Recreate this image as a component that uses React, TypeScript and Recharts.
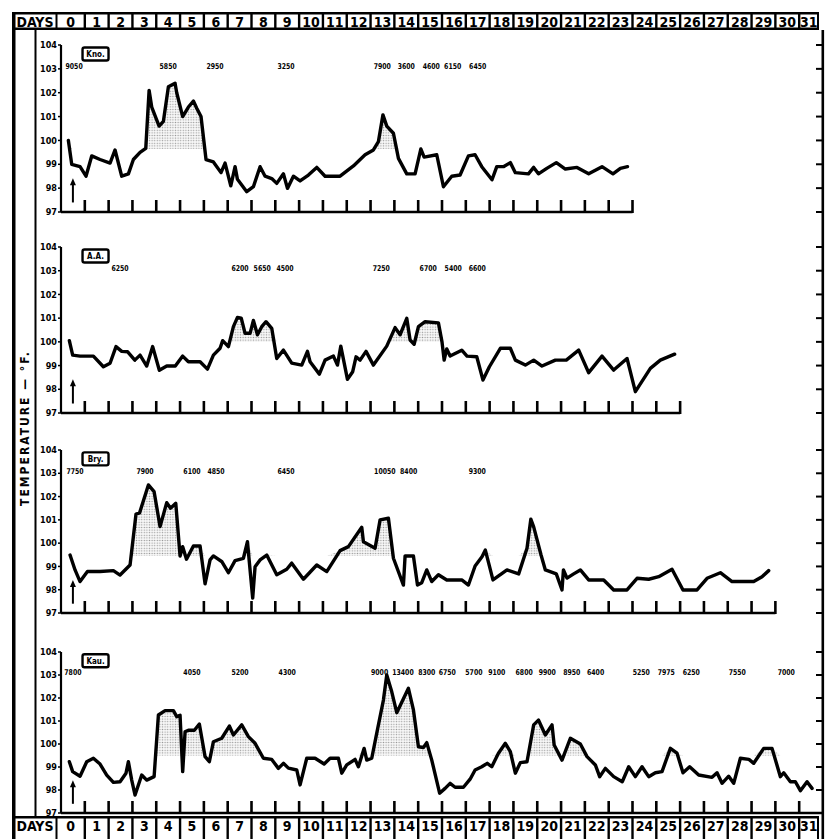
import React from 'react';
import { ComposedChart, Line, Area, XAxis, YAxis, Scatter, ReferenceLine, ReferenceDot } from 'recharts';

// ---- tick labels ----
const dayLabels = ['0','1','2','3','4','5','6','7','8','9','10','11','12','13','14','15','16','17','18','19','20','21','22','23','24','25','26','27','28','29','30','31'];
const tempTicks = [97, 98, 99, 100, 101, 102, 103, 104];
const axisTitle = 'TEMPERATURE — °F.';

// ---- panel names ----
const panelNames = ['Kno.', 'A.A.', 'Bry.', 'Kau.'];

// ---- temperature readings [day, °F] ----
const panel1Readings: [number, number][] = [
  [0.31,100.0],[0.45,99.0],[0.8,98.9],[1.05,98.5],[1.29,99.35],[1.64,99.2],[2.06,99.05],[2.27,99.6],[2.55,98.5],[2.83,98.6],
  [3.04,99.2],[3.32,99.5],[3.56,99.67],[3.7,102.1],[3.81,101.4],[4.12,100.6],[4.3,100.8],[4.51,102.25],[4.79,102.4],[4.86,102.0],
  [5.11,101.0],[5.35,101.4],[5.56,101.65],[5.7,101.35],[5.88,101.0],[6.09,99.2],[6.4,99.1],[6.72,98.65],[6.89,99.05],[7.13,98.1],
  [7.31,98.9],[7.41,98.37],[7.8,97.85],[8.08,98.06],[8.36,98.9],[8.57,98.5],[8.85,98.4],[9.06,98.2],[9.34,98.6],[9.51,97.99],
  [9.76,98.5],[10.04,98.3],[10.39,98.55],[10.74,98.87],[11.09,98.5],[11.72,98.5],[12.28,98.93],[12.77,99.4],[13.12,99.6],[13.33,99.95],
  [13.52,101.07],[13.68,100.6],[13.96,100.3],[14.17,99.25],[14.52,98.6],[14.87,98.6],[15.11,99.64],[15.25,99.3],[15.78,99.4],[16.06,98.06],
  [16.41,98.5],[16.76,98.55],[17.11,99.35],[17.39,99.4],[17.67,98.9],[18.1,98.35],[18.3,98.9],[18.58,98.9],[18.87,99.07],[19.08,98.65],
  [19.63,98.6],[19.85,98.87],[20.05,98.6],[20.4,98.83],[20.8,99.07],[21.18,98.8],[21.67,98.87],[22.16,98.6],[22.72,98.9],[23.18,98.6],
  [23.49,98.83],[23.79,98.9],
];
const panel2Readings: [number, number][] = [
  [0.35,100.05],[0.49,99.44],[0.8,99.4],[1.36,99.4],[1.78,98.95],[2.06,99.1],[2.31,99.8],[2.55,99.6],[2.8,99.58],[3.1,99.23],
  [3.32,99.44],[3.6,98.98],[3.85,99.8],[4.13,98.8],[4.44,98.98],[4.8,98.98],[5.11,99.4],[5.35,99.16],[5.84,99.16],[6.15,98.85],
  [6.4,99.44],[6.68,99.73],[6.79,100.05],[7.03,99.8],[7.24,100.64],[7.41,101.03],[7.57,101.0],[7.73,100.36],[7.94,100.36],[8.08,100.9],
  [8.25,100.3],[8.43,100.64],[8.61,100.85],[8.85,100.57],[9.06,99.3],[9.34,99.65],[9.69,99.1],[10.11,99.02],[10.35,99.6],[10.46,99.16],
  [10.85,98.64],[11.09,99.23],[11.44,99.4],[11.61,99.02],[11.75,99.82],[12.03,98.42],[12.25,98.74],[12.39,99.37],[12.56,99.23],[12.81,99.6],
  [13.12,99.02],[13.68,99.82],[14.03,100.6],[14.24,100.3],[14.52,100.99],[14.66,100.08],[14.83,99.9],[15.01,100.64],[15.29,100.85],[15.85,100.8],
  [16.0,100.0],[16.09,99.23],[16.2,99.7],[16.34,99.4],[16.83,99.65],[17.05,99.4],[17.46,99.37],[17.72,98.39],[17.99,98.95],[18.45,99.73],
  [18.87,99.73],[19.08,99.23],[19.5,99.02],[19.85,99.23],[20.2,98.98],[20.76,99.23],[21.22,99.23],[21.74,99.65],[22.16,98.7],[22.72,99.4],
  [23.21,98.81],[23.77,99.3],[24.12,97.9],[24.75,98.88],[25.17,99.23],[25.77,99.48],
];
const panel3Readings: [number, number][] = [
  [0.38,99.49],[0.59,98.85],[0.8,98.35],[1.11,98.78],[1.64,98.78],[2.2,98.82],[2.48,98.63],[2.9,99.06],[3.15,101.25],[3.3,101.3],
  [3.67,102.5],[3.91,102.21],[4.16,100.71],[4.44,101.74],[4.6,101.5],[4.82,101.71],[5.0,99.45],[5.11,99.85],[5.27,99.31],[5.56,99.88],
  [5.84,99.88],[6.05,98.25],[6.26,99.28],[6.4,99.45],[6.76,99.2],[7.03,98.73],[7.31,99.25],[7.66,99.35],[7.83,100.06],[8.05,97.64],
  [8.15,98.99],[8.36,99.28],[8.64,99.49],[9.06,98.64],[9.48,98.88],[9.69,99.14],[10.18,98.45],[10.74,99.06],[11.16,98.78],[11.72,99.68],
  [12.07,99.85],[12.63,100.68],[12.7,100.06],[13.19,99.78],[13.4,101.0],[13.75,101.07],[13.96,99.35],[14.38,98.2],[14.45,99.45],[14.8,99.45],
  [14.97,98.2],[15.15,98.3],[15.36,98.85],[15.57,98.35],[15.85,98.64],[16.2,98.42],[16.83,98.42],[17.11,98.2],[17.39,99.02],[17.68,99.42],
  [17.82,99.7],[18.14,98.42],[18.73,98.85],[19.22,98.68],[19.57,99.78],[19.73,101.03],[19.85,100.7],[20.16,99.49],[20.34,98.85],[20.8,98.68],
  [21.04,97.99],[21.1,98.85],[21.25,98.5],[21.53,98.68],[21.81,98.85],[22.16,98.42],[22.79,98.42],[23.21,97.99],[23.77,97.99],[24.19,98.49],
  [24.68,98.45],[25.1,98.56],[25.66,98.88],[26.12,97.99],[26.71,97.99],[27.13,98.49],[27.69,98.73],[28.18,98.35],[29.09,98.35],[29.44,98.56],
  [29.72,98.82],
];
const panel4Readings: [number, number][] = [
  [0.35,99.23],[0.49,98.8],[0.8,98.6],[1.08,99.23],[1.36,99.38],[1.64,99.13],[1.92,98.65],[2.2,98.33],[2.48,98.36],[2.73,98.73],
  [2.83,99.23],[2.97,98.43],[3.11,97.78],[3.39,98.65],[3.6,98.43],[3.91,98.58],[4.09,101.26],[4.37,101.45],[4.72,101.45],[4.86,101.19],
  [5.0,101.25],[5.11,98.8],[5.21,100.53],[5.35,100.6],[5.6,100.6],[5.81,100.87],[6.05,99.45],[6.23,99.23],[6.4,100.1],[6.75,100.25],
  [7.07,100.78],[7.24,100.39],[7.59,100.83],[7.87,100.32],[8.15,100.03],[8.5,99.38],[8.85,99.33],[9.13,98.94],[9.34,99.16],[9.55,98.95],
  [9.9,98.87],[10.04,98.22],[10.32,99.38],[10.67,99.38],[11.05,99.13],[11.3,99.38],[11.65,99.38],[11.79,98.73],[12.0,99.09],[12.35,99.33],
  [12.49,99.01],[12.73,99.81],[12.84,99.3],[13.05,99.38],[13.26,100.47],[13.54,101.91],[13.68,103.0],[13.89,102.27],[14.1,101.36],[14.59,102.42],
  [14.8,101.48],[15.01,99.88],[15.22,99.85],[15.36,100.06],[15.57,99.3],[15.9,97.86],[16.13,98.07],[16.34,98.29],[16.55,98.12],[16.9,98.12],
  [17.18,98.47],[17.39,98.87],[17.67,99.01],[17.9,99.16],[18.09,99.01],[18.37,99.6],[18.66,100.03],[18.87,99.67],[19.08,98.73],[19.29,99.19],
  [19.57,99.23],[19.85,100.83],[20.05,101.04],[20.34,100.39],[20.62,100.83],[20.71,99.96],[21.04,99.3],[21.39,100.25],[21.81,100.0],[22.09,99.45],
  [22.44,99.09],[22.62,98.58],[22.86,98.94],[23.21,98.58],[23.57,98.36],[23.84,99.01],[24.12,98.58],[24.4,99.01],[24.68,98.58],[24.96,98.75],
  [25.24,98.8],[25.59,99.81],[25.87,99.6],[26.12,98.75],[26.4,99.01],[26.78,98.65],[27.34,98.55],[27.55,98.75],[27.76,98.29],[28.04,98.6],
  [28.25,98.29],[28.53,99.38],[28.89,99.33],[29.09,99.16],[29.51,99.81],[29.86,99.81],[30.21,98.58],[30.35,98.75],[30.63,98.36],[30.84,98.36],
  [31.05,97.97],[31.33,98.36],[31.54,98.07],
];

// ---- counts written across the top of each panel [day, text] ----
const panel1Counts: [number, string][] = [[0.55,'9050'],[4.5,'5850'],[6.47,'2950'],[9.45,'3250'],[13.49,'7900'],[14.5,'3600'],[15.55,'4600'],[16.45,'6150'],[17.5,'6450']];
const panel2Counts: [number, string][] = [[2.48,'6250'],[7.52,'6200'],[8.45,'5650'],[9.41,'4500'],[13.45,'7250'],[15.42,'6700'],[16.47,'5400'],[17.48,'6600']];
const panel3Counts: [number, string][] = [[0.59,'7750'],[3.53,'7900'],[5.5,'6100'],[6.51,'4850'],[9.45,'6450'],[13.6,'10050'],[14.6,'8400'],[17.48,'9300']];
const panel4Counts: [number, string][] = [[0.5,'7800'],[5.5,'4050'],[7.52,'5200'],[9.5,'4300'],[13.38,'9000'],[14.36,'13400'],[15.36,'8300'],[16.22,'6750'],[17.34,'5700'],[18.3,'9100'],[19.45,'6800'],[20.42,'9900'],[21.45,'8950'],[22.45,'6400'],[24.37,'5250'],[25.42,'7975'],[26.47,'6250'],[28.4,'7550'],[30.46,'7000']];

// ---- panel settings ----
const panelLastDay = [24, 26, 30, 32];
const feverLevel = [99.65, 100.0, 99.45, 99.5];

const W = 835;
const PLOT_LEFT = 61;
const PLOT_RIGHT = 823;
const DAY_W = (PLOT_RIGHT - PLOT_LEFT) / 32;
const FONT = "'Liberation Sans Narrow','DejaVu Sans Condensed','Arial Narrow','Liberation Sans',sans-serif";

const panelLayout = [
  { top: 45, h: 167 },
  { top: 247, h: 166 },
  { top: 450, h: 163 },
  { top: 652, h: 161 },
];

const TickMark = (p: any) => (
  <line x1={p.cx} x2={p.cx} y1={p.cy + 1} y2={p.cy - 12} stroke="#000" strokeWidth={2.6} />
);
const RightTick = (p: any) => (
  <line x1={p.cx - 7} x2={p.cx} y1={p.cy} y2={p.cy} stroke="#000" strokeWidth={2} />
);
const CountLabel = (p: any) => (
  <text
    x={p.cx}
    y={p.cy}
    textAnchor="middle"
    dominantBaseline="central"
    fontSize={7}
    fontWeight={900}
    fontFamily={FONT}
    fill="#000"
    textLength={p.payload.label.length * 4.3}
    lengthAdjust="spacingAndGlyphs"
    style={{ transform: 'scaleY(1.15)', transformBox: 'fill-box', transformOrigin: 'center' }}
  >
    {p.payload.label}
  </text>
);
const NameBox = (p: any) => (
  <g>
    <rect x={p.cx - 13} y={p.cy - 6.5} width={26} height={13} rx={2} fill="#fff" stroke="#000" strokeWidth={2.4} />
    <text x={p.cx} y={p.cy + 0.5} textAnchor="middle" dominantBaseline="central" fontSize={8} fontWeight={900} fontFamily={FONT} fill="#000">
      {p.payload.label}
    </text>
  </g>
);
const ArrowHead = (p: any) => (
  <polygon points={`${p.cx},${p.cy - 4} ${p.cx - 3},${p.cy + 3} ${p.cx + 3},${p.cy + 3}`} fill="#000" />
);

function Panel({ idx, readings, counts }: { idx: number; readings: [number, number][]; counts: [number, string][] }) {
  const fever = feverLevel[idx];
  const last = panelLastDay[idx];
  const { top, h } = panelLayout[idx];
  const data = readings.map(([t, v]) => ({ t, v, f: Math.max(v, fever) }));
  const tickDays = dayLabels.map((_, i) => i + 1).filter((d) => d <= Math.min(last, 31));
  const tickData = tickDays.map((t) => ({ t, v: 97 }));
  const rightTicks = tempTicks.map((v) => ({ t: 32, v }));
  const countData = counts.map(([t, label]) => ({ t, v: 103.1, label }));
  const nameData = [{ t: 1.45, v: 103.62, label: panelNames[idx] }];
  const mt = 20, mb = 14;
  return (
    <div style={{ position: 'absolute', left: 0, top: top - mt }}>
      <ComposedChart width={W} height={h + mt + mb} data={data} margin={{ top: mt, right: 0, bottom: mb, left: PLOT_LEFT - 30 }}>
        <defs>
          <pattern id={`dots${idx}`} width="2.6" height="2.6" patternUnits="userSpaceOnUse">
            <rect width="2.6" height="2.6" fill="#f2f2f2" />
            <circle cx="1.3" cy="1.3" r="0.7" fill="#555" />
          </pattern>
        </defs>
        <XAxis dataKey="t" type="number" domain={[0, 32]} hide />
        <YAxis
          yAxisId="l"
          domain={[97, 104]}
          ticks={tempTicks}
          interval={0}
          width={30}
          axisLine={{ stroke: '#000', strokeWidth: 2.2 }}
          tickLine={{ stroke: '#000', strokeWidth: 1.5 }}
          tickSize={3}
          tickMargin={1}
          tick={{ fontSize: 9, fill: '#000', fontWeight: 700, fontFamily: FONT }}
        />
        <YAxis
          yAxisId="r"
          orientation="right"
          domain={[97, 104]}
          ticks={tempTicks}
          interval={0}
          width={12}
          axisLine={false}
          tickLine={false}
          tickSize={2}
          tickMargin={1}
          tick={{ fontSize: 9, fill: '#000', fontWeight: 700, fontFamily: FONT }}
        />
        <Area yAxisId="l" dataKey="f" type="linear" baseValue={fever} stroke="none" fill={`url(#dots${idx})`} isAnimationActive={false} />
        <ReferenceLine yAxisId="l" segment={[{ x: 0, y: 97 }, { x: last, y: 97 }]} stroke="#000" strokeWidth={2.6} />
        <Scatter yAxisId="l" data={tickData} dataKey="v" shape={TickMark} isAnimationActive={false} />
        <Scatter yAxisId="l" data={rightTicks} dataKey="v" shape={RightTick} isAnimationActive={false} />
        <ReferenceLine yAxisId="l" segment={[{ x: 0.5, y: 97.4 }, { x: 0.5, y: 98.15 }]} stroke="#000" strokeWidth={2} />
        <ReferenceDot yAxisId="l" x={0.5} y={98.25} r={3} shape={ArrowHead} />
        <Line yAxisId="l" dataKey="v" type="linear" stroke="#000" strokeWidth={3.4} strokeLinejoin="round" strokeLinecap="round" dot={false} isAnimationActive={false} />
        <Scatter yAxisId="l" data={countData} dataKey="v" shape={CountLabel} isAnimationActive={false} />
        <Scatter yAxisId="l" data={nameData} dataKey="v" shape={NameBox} isAnimationActive={false} />
      </ComposedChart>
    </div>
  );
}

const dx = (t: number) => PLOT_LEFT + t * DAY_W;

function DayRow({ y, h }: { y: number; h: number }) {
  return (
    <g>
      <rect x={12} y={y} width={807} height={h} fill="#000" />
      <rect x={15.5} y={y + 2.5} width={40} height={h - 5} fill="#fff" />
      <text x={35} y={y + 10} textAnchor="middle" dominantBaseline="central" fontSize={14} fontWeight={900} fontFamily={FONT} fill="#000">DAYS</text>
      {dayLabels.map((d, i) => {
        const x1 = i === 0 ? 57.5 : dx(i) + 1.2;
        const x2 = i === 31 ? 817 : dx(i + 1) - 1.2;
        return (
          <g key={d}>
            <rect x={x1} y={y + 2.5} width={x2 - x1} height={h - 5} fill="#fff" />
            <text x={(x1 + x2) / 2} y={y + 10} textAnchor="middle" dominantBaseline="central" fontSize={14} fontWeight={900} fontFamily={FONT} fill="#000">{d}</text>
          </g>
        );
      })}
    </g>
  );
}

export default function App() {
  return (
    <div style={{ position: 'absolute', left: 0, top: 0, width: W, height: 839, background: '#fff', overflow: 'hidden' }}>
      <svg width={W} height={839} style={{ position: 'absolute', left: 0, top: 0 }}>
        <rect x={12} y={12} width={3.5} height={827} fill="#000" />
        <rect x={34.5} y={29} width={2} height={790} fill="#000" />
        <rect x={821.5} y={30} width={2.6} height={809} fill="#000" />
        <DayRow y={12} h={18} />
        <DayRow y={816} h={30} />
        <text
          x={25}
          y={428}
          transform="rotate(-90 25 428)"
          textAnchor="middle"
          dominantBaseline="central"
          fontSize={12}
          fontWeight={900}
          letterSpacing={2}
          fontFamily={FONT}
          fill="#000"
        >
          {axisTitle}
        </text>
      </svg>
      <Panel idx={0} readings={panel1Readings} counts={panel1Counts} />
      <Panel idx={1} readings={panel2Readings} counts={panel2Counts} />
      <Panel idx={2} readings={panel3Readings} counts={panel3Counts} />
      <Panel idx={3} readings={panel4Readings} counts={panel4Counts} />
    </div>
  );
}
